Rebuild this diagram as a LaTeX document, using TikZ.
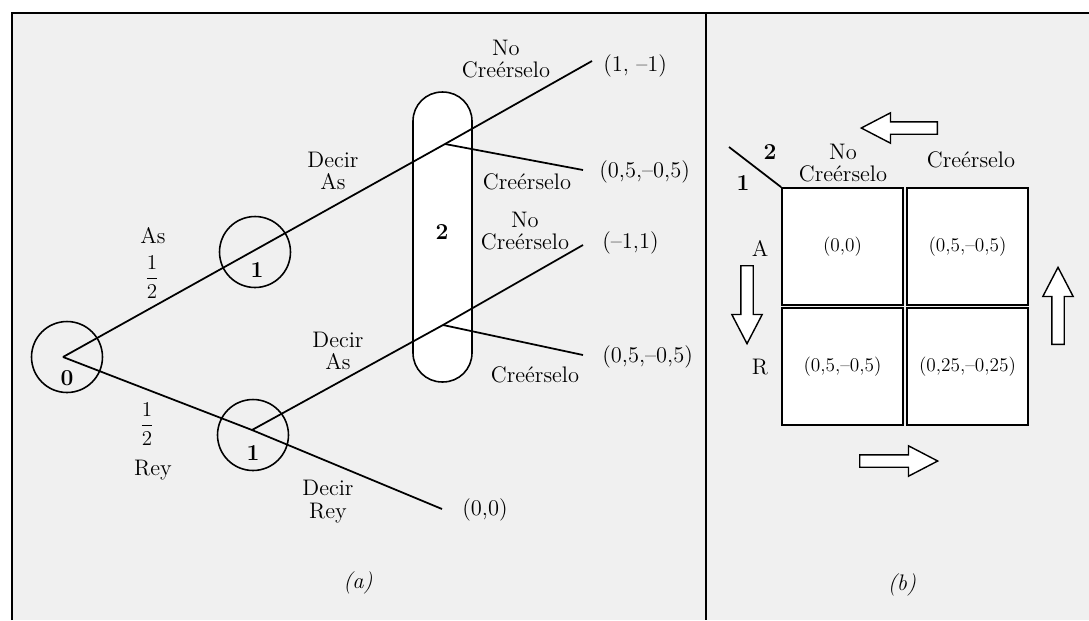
\documentclass[tikz,border=0pt]{standalone}
\usepackage{amsmath}
\usetikzlibrary{shapes.arrows}

\begin{document}
\begin{tikzpicture}[x=0.02cm, y=-0.02cm,
  br/.style={line width=1pt},
  chance/.style={circle, draw, line width=0.9pt, minimum size=1.42cm, inner sep=0pt},
  lbl/.style={font=\fontsize{12.8}{13}\selectfont, align=center, inner sep=0pt},
  num/.style={font=\fontsize{13}{14}\selectfont\bfseries, inner sep=0pt},
  cell/.style={draw, fill=white, line width=1pt, minimum width=2.42cm, minimum height=2.34cm, inner sep=0pt, font=\fontsize{11}{13}\selectfont},
  bigarrow/.style={single arrow, draw, fill=white, line width=0.8pt, inner sep=0.11cm, single arrow head extend=0.18cm, single arrow tip angle=55, anchor=tail}
]
\useasboundingbox (0,0) rectangle (1089,620);
\fill[black!6] (12,13) rectangle (1089,620);
\draw[line width=1.6pt] (12,620) -- (12,13) -- (1089,13);
\draw[line width=1.3pt] (706,13) -- (706,620);

% game tree
\node[draw, fill=white, line width=0.9pt, rounded corners=0.58cm, minimum width=1.18cm, minimum height=5.8cm, inner sep=0pt] (info) at (442.5,237) {};
\node[chance] (c0) at (67,357) {};
\node[chance] (cA) at (255,252) {};
\node[chance] (cR) at (253,435) {};
\coordinate (n0) at (63,357);
\coordinate (nA) at (255,250);
\coordinate (nR) at (252,430);
\coordinate (pA) at (445,144);
\coordinate (pR) at (443,325);
\coordinate (e1) at (592,61);
\coordinate (e2) at (583,170);
\coordinate (e3) at (583,245);
\coordinate (e4) at (583,355);
\coordinate (e5) at (442,509);
\draw[br] (n0) -- (nA) -- (pA) -- (e1);
\draw[br] (pA) -- (e2);
\draw[br] (n0) -- (nR) -- (e5);
\draw[br] (nR) -- (pR) -- (e3);
\draw[br] (pR) -- (e4);

\node[num] (k0) at (67,378) {0};
\node[num] (kA) at (257,270) {1};
\node[num] (kR) at (253,453) {1};
\node[num] (k2) at (442,232) {2};

\node[lbl] (lAs) at (153,236) {As};
\node[lbl] (lpA) at (152,277) {$\dfrac{1}{2}$};
\node[lbl] (lpR) at (147,424) {$\dfrac{1}{2}$};
\node[lbl] (lRey) at (153,470) {Rey};
\node[lbl] (ldA) at (333,171) {Decir\\As};
\node[lbl] (ldA2) at (338,351) {Decir\\As};
\node[lbl] (ldR) at (328,502) {Decir\\Rey};
\node[lbl] (lnc1) at (506,59) {No\\Cre\'erselo};
\node[lbl] (lc1) at (527,182) {Cre\'erselo};
\node[lbl] (lnc2) at (525,231) {No\\Cre\'erselo};
\node[lbl] (lc2) at (535,375) {Cre\'erselo};

\node[lbl, anchor=west] (v1) at (603,66) {(1, --1)};
\node[lbl, anchor=west] (v2) at (599,172) {(0,5,--0,5)};
\node[lbl, anchor=west] (v3) at (602,243) {(--1,1)};
\node[lbl, anchor=west] (v4) at (602,357) {(0,5,--0,5)};
\node[lbl, anchor=west] (v5) at (462,510) {(0,0)};
\node[lbl] (ta) at (358,583) {\textit{(a)}};

% normal form
\node[cell] (aa) at (842.5,246.5) {(0,0)};
\node[cell] (ac) at (967.5,246.5) {(0,5,--0,5)};
\node[cell] (ra) at (842.5,366.5) {(0,5,--0,5)};
\node[cell] (rc) at (967.5,366.5) {(0,25,--0,25)};
\coordinate (dg) at (729,147);
\draw[br] (aa.north west) -- (dg);
\node[num] (m2) at (770,152) {2};
\node[num] (m1) at (743,183) {1};
\node[lbl] (hnc) at (843,163) {No\\Cre\'erselo};
\node[lbl] (hc) at (971,160) {Cre\'erselo};
\node[lbl] (hA) at (760,248) {A};
\node[lbl] (hR) at (760,367) {R};

\node[bigarrow, minimum height=1.52cm, shape border rotate=180] (wl) at (938,128) {};
\node[bigarrow, minimum height=1.56cm] (wr) at (859,461) {};
\node[bigarrow, minimum height=1.56cm, shape border rotate=270] (wd) at (747,265) {};
\node[bigarrow, minimum height=1.54cm, shape border rotate=90] (wu) at (1058,345) {};
\node[lbl] (tb) at (902,585) {\textit{(b)}};
\end{tikzpicture}
\end{document}
